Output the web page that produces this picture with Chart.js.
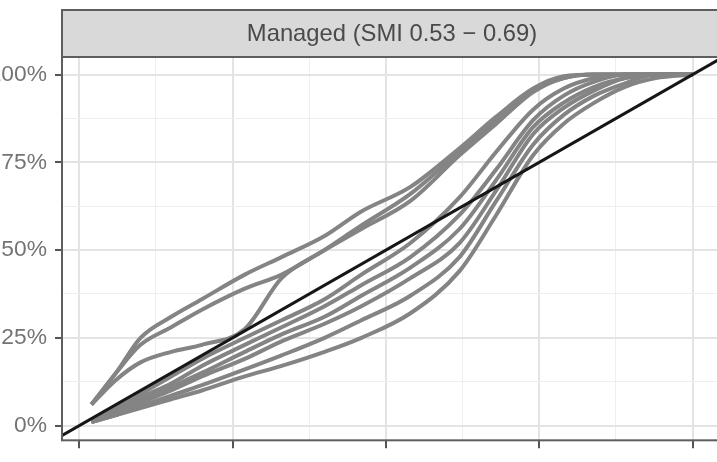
<!DOCTYPE html>
<html>
<head>
<meta charset="utf-8">
<script src="https://cdn.jsdelivr.net/npm/chart.js@4"></script>
<style>
  html, body { margin: 0; padding: 0; overflow: hidden; background: #ffffff; width: 717px; height: 462px; }
  #wrap { position: relative; width: 717px; height: 462px; overflow: hidden; }
  #c { position: absolute; left: -20px; top: 0; }
</style>
</head>
<body>
<div id="wrap"><canvas id="c" width="742" height="462" style="width:742px;height:462px"></canvas></div>
<script>
// ---- data ----
const stripTitle = "Managed (SMI 0.53 \u2212 0.69)";
const xGrid  = [0.02, 0.06, 0.10, 0.15, 0.20, 0.27, 0.33, 0.40, 0.46, 0.54, 0.62, 0.68, 0.74, 0.79, 0.84, 0.89, 0.94, 1.00];
const curve1 = [0.06, 0.15, 0.25, 0.31, 0.36, 0.43, 0.48, 0.54, 0.61, 0.68, 0.79, 0.88, 0.96, 0.995, 1, 1, 1, 1];
const curve2 = [0.06, 0.15, 0.23, 0.28, 0.33, 0.39, 0.43, 0.50, 0.56, 0.64, 0.77, 0.86, 0.95, 0.99, 1, 1, 1, 1];
const curve3 = [0.06, 0.13, 0.18, 0.21, 0.23, 0.275, 0.42, 0.50, 0.57, 0.66, 0.78, 0.87, 0.955, 0.99, 1, 1, 1, 1];
const curve4 = [0.01, 0.05, 0.09, 0.14, 0.19, 0.25, 0.30, 0.36, 0.43, 0.52, 0.65, 0.78, 0.90, 0.96, 0.99, 1, 1, 1];
const curve5 = [0.01, 0.04, 0.08, 0.12, 0.17, 0.23, 0.28, 0.34, 0.40, 0.48, 0.60, 0.73, 0.87, 0.94, 0.98, 1, 1, 1];
const curve6 = [0.01, 0.04, 0.07, 0.11, 0.15, 0.21, 0.26, 0.31, 0.37, 0.45, 0.56, 0.70, 0.85, 0.92, 0.965, 0.99, 1, 1];
const curve7 = [0.01, 0.035, 0.065, 0.10, 0.14, 0.19, 0.24, 0.29, 0.34, 0.42, 0.52, 0.67, 0.83, 0.905, 0.955, 0.99, 1, 1];
const curve8 = [0.01, 0.03, 0.055, 0.085, 0.115, 0.16, 0.20, 0.25, 0.30, 0.37, 0.48, 0.64, 0.80, 0.885, 0.94, 0.975, 1, 1];
const curve9 = [0.01, 0.03, 0.05, 0.075, 0.10, 0.14, 0.17, 0.21, 0.25, 0.32, 0.44, 0.60, 0.77, 0.86, 0.92, 0.965, 0.99, 1];
const refLineX = [-0.1, 1.1];
const refLineY = [-0.1, 1.1];
const xTickValues = [0, 0.125, 0.25, 0.375, 0.5, 0.625, 0.75, 0.875, 1];
const yTickValues = [0, 0.125, 0.25, 0.375, 0.5, 0.625, 0.75, 0.875, 1];

const curves = [curve1, curve2, curve3, curve4, curve5, curve6, curve7, curve8, curve9];

const FONT = "'Liberation Sans', Arial, sans-serif";
const isMajor = v => Math.abs(v * 4 - Math.round(v * 4)) < 1e-6;
const tickVal = ctx => (ctx.tick ? ctx.tick.value : 0);

const datasets = [{
  data: refLineX.map((x, i) => ({ x: x, y: refLineY[i] })),
  borderColor: '#161616',
  borderWidth: 3,
  pointRadius: 0,
  tension: 0,
  clip: 0
}].concat(curves.map(c => ({
  data: xGrid.map((x, i) => ({ x: x, y: c[i] })),
  borderColor: '#848484',
  borderWidth: 4,
  pointRadius: 0,
  cubicInterpolationMode: 'monotone',
  clip: 0
})));

const panelPlugin = {
  id: 'panel',
  beforeDraw(chart) {
    const ca = chart.chartArea, ctx = chart.ctx;
    ctx.save();
    ctx.fillStyle = '#d9d9d9';
    ctx.fillRect(ca.left, 10, ca.right - ca.left, ca.top - 10);
    ctx.strokeStyle = '#5e5e5e';
    ctx.lineWidth = 2;
    ctx.strokeRect(ca.left, 10, ca.right - ca.left, ca.top - 10);
    ctx.restore();
  },
  afterDraw(chart) {
    const ca = chart.chartArea, ctx = chart.ctx;
    ctx.save();
    ctx.strokeStyle = '#5e5e5e';
    ctx.lineWidth = 2;
    ctx.strokeRect(ca.left, ca.top, ca.right - ca.left, ca.bottom - ca.top);
    ctx.restore();
  }
};

new Chart(document.getElementById('c'), {
  type: 'line',
  data: { datasets: datasets },
  plugins: [panelPlugin],
  options: {
    responsive: false,
    animation: false,
    devicePixelRatio: 1,
    layout: { padding: { top: 10, left: 0, right: 0, bottom: 0 } },
    plugins: {
      legend: { display: false },
      tooltip: { enabled: false },
      title: {
        display: true,
        text: stripTitle,
        fullSize: false,
        color: '#4a4a4a',
        font: { family: FONT, size: 23.8, weight: 'normal', lineHeight: 1.2 },
        padding: { top: 9.8, bottom: 8.64 }
      }
    },
    scales: {
      x: {
        type: 'linear',
        min: -0.028,
        max: 1.048,
        afterBuildTicks: s => { s.ticks = xTickValues.map(v => ({ value: v })); },
        afterFit: s => { s.height = 11; },
        ticks: { display: false },
        border: { display: false },
        grid: {
          color: ctx => isMajor(tickVal(ctx)) ? '#e4e4e4' : '#eeeeee',
          lineWidth: ctx => isMajor(tickVal(ctx)) ? 2 : 1,
          tickColor: ctx => isMajor(tickVal(ctx)) ? '#555555' : 'rgba(0,0,0,0)',
          tickWidth: 2,
          tickLength: 8
        }
      },
      y: {
        type: 'linear',
        min: -0.042,
        max: 1.05,
        afterBuildTicks: s => { s.ticks = yTickValues.map(v => ({ value: v })); },
        afterFit: s => { s.width = 82; },
        border: { display: false },
        ticks: {
          callback: v => isMajor(v) ? Math.round(v * 100) + '%' : '',
          color: '#747474',
          font: { family: FONT, size: 22.8 },
          padding: 8
        },
        grid: {
          color: ctx => isMajor(tickVal(ctx)) ? '#e4e4e4' : '#eeeeee',
          lineWidth: ctx => isMajor(tickVal(ctx)) ? 2 : 1,
          tickColor: ctx => isMajor(tickVal(ctx)) ? '#555555' : 'rgba(0,0,0,0)',
          tickWidth: 2,
          tickLength: 7
        }
      }
    }
  }
});
</script>
</body>
</html>
